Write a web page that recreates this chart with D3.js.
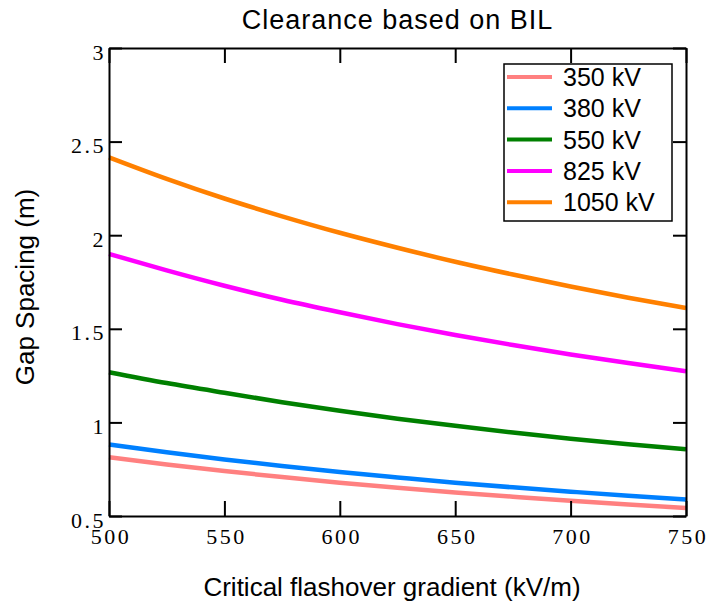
<!DOCTYPE html>
<html>
<head>
<meta charset="utf-8">
<script src="https://cdn.jsdelivr.net/npm/d3@7"></script>
<style>
  body { margin: 0; background: #fff; }
  svg { display: block; }
</style>
</head>
<body>
<svg id="chart"></svg>
<script>
// data
const gradients = [500, 525, 550, 575, 600, 625, 650, 675, 700, 725, 750]
const gap350 = [0.814, 0.775, 0.740, 0.708, 0.678, 0.651, 0.626, 0.603, 0.581, 0.561, 0.543]
const gap380 = [0.882, 0.840, 0.802, 0.767, 0.735, 0.706, 0.678, 0.653, 0.630, 0.608, 0.588]
const gap550 = [1.268, 1.210, 1.158, 1.108, 1.062, 1.020, 0.982, 0.946, 0.913, 0.883, 0.856]
const gap825 = [1.900, 1.812, 1.730, 1.655, 1.588, 1.525, 1.467, 1.413, 1.363, 1.317, 1.273]
const gap1050 = [2.416, 2.301, 2.196, 2.101, 2.013, 1.933, 1.858, 1.790, 1.726, 1.666, 1.611]
const seriesNames = ['350 kV', '380 kV', '550 kV', '825 kV', '1050 kV']
const xTicks = [500, 550, 600, 650, 700, 750]
const yTicks = [0.5, 1, 1.5, 2, 2.5, 3]

const series = [gap350, gap380, gap550, gap825, gap1050].map((vals, i) => ({
    name: seriesNames[i],
    points: gradients.map((g, j) => ({x: g, y: vals[j]}))
}))
const colors = ['#ff8080', '#0080ff', '#008000', '#ff00ff', '#ff8000']

// setting up container
    const width = 708
    const height = 602
    const margin = {top: 48, right: 22, bottom: 86, left: 109}
    const innerW = width - margin.left - margin.right
    const innerH = height - margin.top - margin.bottom

    const svg = d3.select('#chart')
        .attr('width', width)
        .attr('height', height)

    const g = svg.append('g')
        .attr('transform', `translate(${margin.left}, ${margin.top})`)

// set up scale
    const xScale = d3.scaleLinear().domain([500, 750]).range([0, innerW])
    const yScale = d3.scaleLinear().domain([0.5, 3]).range([innerH, 0])

// lines
    const line = d3.line()
        .x(d => xScale(d.x))
        .y(d => yScale(d.y))
        .curve(d3.curveMonotoneX)

    g.selectAll('.series')
        .data(series)
        .enter()
        .append('path')
            .attr('class', 'series')
            .attr('d', d => line(d.points))
            .attr('fill', 'none')
            .attr('stroke', (d, i) => colors[i])
            .attr('stroke-width', 4.5)

// axes (ticks pointing inward on all four sides)
    const tickFont = '"Liberation Serif", "Times New Roman", serif'
    const styleAxis = sel => {
        sel.select('.domain').attr('stroke', '#000').attr('stroke-width', 2)
        sel.selectAll('.tick line').attr('stroke', '#000').attr('stroke-width', 2)
        sel.selectAll('text')
            .style('font-family', tickFont)
            .style('font-size', '22px')
            .style('letter-spacing', '2.5px')
            .attr('fill', '#000')
    }

    g.append('g')
        .attr('transform', `translate(0, ${innerH})`)
        .call(d3.axisBottom(xScale).tickValues(xTicks).tickSize(-15).tickPadding(12).tickSizeOuter(0))
        .call(styleAxis)
        .selectAll('text').attr('dx', '1.5px')

    g.append('g')
        .call(d3.axisLeft(yScale).tickValues(yTicks).tickSize(-13).tickPadding(3).tickSizeOuter(0)
            .tickFormat(d3.format('')))
        .call(styleAxis)
        .selectAll('text').attr('dy', '0.5em')

    g.append('g')
        .call(d3.axisTop(xScale).tickValues(xTicks).tickSize(-15).tickFormat('').tickSizeOuter(0))
        .call(styleAxis)

    g.append('g')
        .attr('transform', `translate(${innerW}, 0)`)
        .call(d3.axisRight(yScale).tickValues(yTicks).tickSize(-13).tickFormat('').tickSizeOuter(0))
        .call(styleAxis)

// legend
    const legend = g.append('g')
        .attr('transform', `translate(${504 - margin.left}, ${64 - margin.top})`)
    legend.append('rect')
        .attr('width', 168)
        .attr('height', 157)
        .attr('fill', '#fff')
        .attr('stroke', '#000')
        .attr('stroke-width', 1.5)
    const rows = legend.selectAll('.row')
        .data(series)
        .enter()
        .append('g')
            .attr('transform', (d, i) => `translate(0, ${13 + i * 31.3})`)
    rows.append('line')
        .attr('x1', 3).attr('x2', 48)
        .attr('stroke', (d, i) => colors[i])
        .attr('stroke-width', 4)
    rows.append('text')
        .attr('x', 59)
        .attr('y', 9)
        .text(d => d.name)
        .style('font-family', '"Liberation Sans", Arial, sans-serif')
        .style('font-size', '25px')

// titles
    const sans = '"Liberation Sans", Arial, sans-serif'
    svg.append('text')
        .attr('x', margin.left + innerW / 2)
        .attr('y', 29)
        .attr('text-anchor', 'middle')
        .style('font-family', sans)
        .style('font-size', '27px')
        .style('letter-spacing', '1px')
        .text('Clearance based on BIL')

    svg.append('text')
        .attr('x', 392)
        .attr('y', 596)
        .attr('text-anchor', 'middle')
        .style('font-family', sans)
        .style('font-size', '26px')
        .text('Critical flashover gradient (kV/m)')

    svg.append('text')
        .attr('transform', `translate(34, 287) rotate(-90)`)
        .attr('text-anchor', 'middle')
        .style('font-family', sans)
        .style('font-size', '26px')
        .text('Gap Spacing (m)')
</script>
</body>
</html>
